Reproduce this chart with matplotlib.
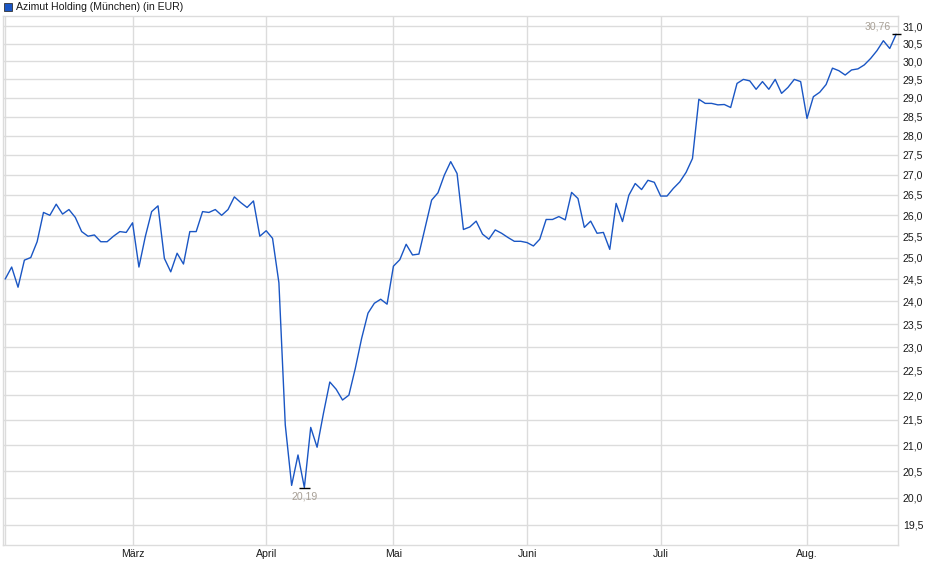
import numpy as np
import matplotlib.pyplot as plt
from matplotlib.ticker import FixedLocator, FuncFormatter, NullLocator

plt.rcParams['font.family'] = ['Liberation Sans', 'DejaVu Sans']

# Schlusskurse (Handelstage, Feb. - Aug.)
kurse = [24.51, 24.78, 24.32, 24.94, 25.00, 25.37, 26.07, 26.00, 26.27, 26.03,
         26.14, 25.95, 25.61, 25.50, 25.53, 25.37, 25.37, 25.50, 25.61, 25.59,
         25.82, 24.78, 25.49, 26.09, 26.23, 24.98, 24.67, 25.10, 24.85, 25.61,
         25.61, 26.09, 26.07, 26.14, 26.00, 26.14, 26.45, 26.31, 26.19, 26.35,
         25.50, 25.63, 25.45, 24.42, 21.40, 20.23, 20.81, 20.19, 21.35, 20.96,
         21.63, 22.27, 22.12, 21.90, 22.00, 22.55, 23.19, 23.74, 23.96, 24.05,
         23.94, 24.80, 24.95, 25.31, 25.06, 25.08, 25.72, 26.37, 26.55, 26.99,
         27.33, 27.03, 25.66, 25.72, 25.86, 25.55, 25.43, 25.65, 25.57, 25.47,
         25.38, 25.38, 25.35, 25.27, 25.43, 25.90, 25.90, 25.97, 25.89, 26.56,
         26.41, 25.71, 25.86, 25.57, 25.59, 25.19, 26.29, 25.85, 26.49, 26.78,
         26.63, 26.86, 26.81, 26.47, 26.47, 26.66, 26.82, 27.06, 27.41, 28.96,
         28.85, 28.85, 28.81, 28.82, 28.74, 29.39, 29.50, 29.46, 29.23, 29.44,
         29.23, 29.50, 29.12, 29.28, 29.50, 29.44, 28.45, 29.03, 29.15, 29.36,
         29.81, 29.74, 29.62, 29.76, 29.79, 29.90, 30.08, 30.30, 30.58, 30.36,
         30.76]

# Monatsanfaenge als Handelstag-Index
monat_pos = [0, 20, 41, 61, 82, 103, 126]
monat_namen = ['', 'März', 'April', 'Mai', 'Juni', 'Juli', 'Aug.']

y_ticks = [19.5, 20.0, 20.5, 21.0, 21.5, 22.0, 22.5, 23.0, 23.5, 24.0, 24.5,
           25.0, 25.5, 26.0, 26.5, 27.0, 27.5, 28.0, 28.5, 29.0, 29.5, 30.0,
           30.5, 31.0]

tage = np.arange(len(kurse))
kurse = np.array(kurse)
grau = '#dcdcdc'
fs = 7.6

fig = plt.figure(figsize=(9.4, 5.79), dpi=100)
ax = fig.add_axes([2.7 / 940, 34 / 579, 895.3 / 940, 529 / 579])

ax.plot(tage, kurse, color='#1a56c4', lw=1.0, zorder=3)

ax.set_yscale('log')
ax.set_ylim(19.14, 31.29)
ax.set_xlim(-0.41, 140.3)

ax.yaxis.set_major_locator(FixedLocator(y_ticks))
ax.yaxis.set_minor_locator(NullLocator())
ax.yaxis.set_major_formatter(FuncFormatter(lambda v, p: f'{v:.1f}'.replace('.', ',')))
ax.yaxis.tick_right()
ax.tick_params(axis='y', length=0, pad=3.5, labelsize=fs, labelcolor='#1a1a1a')

ax.set_xticks(monat_pos)
ax.set_xticklabels(monat_namen)
ax.tick_params(axis='x', length=0, pad=3, labelsize=fs, labelcolor='#1a1a1a')

ax.grid(True, color=grau, lw=1.0, zorder=0)
for s in ax.spines.values():
    s.set_color(grau)
    s.set_linewidth(1.0)

# Tief und Hoch markieren
i_min = int(np.argmin(kurse))
i_max = int(np.argmax(kurse))
ax.hlines(kurse[i_min], i_min - 0.9, i_min + 0.9, color='black', lw=1.0, zorder=4)
ax.text(i_min, kurse[i_min] * 0.996, f'{kurse[i_min]:.2f}'.replace('.', ','),
        ha='center', va='top', fontsize=fs, color='#a8a096')
ax.hlines(kurse[i_max], i_max - 0.7, i_max + 0.7, color='black', lw=1.0,
          zorder=4, clip_on=False)
ax.text(i_max - 0.9, kurse[i_max] * 1.003, f'{kurse[i_max]:.2f}'.replace('.', ','),
        ha='right', va='bottom', fontsize=fs, color='#a8a096')

# Legende oben links
fig.patches.append(plt.Rectangle((4 / 940, 1 - 10.5 / 579), 7.5 / 940, 7.5 / 579,
                                 transform=fig.transFigure, facecolor='#1a56c4',
                                 edgecolor='#333333', lw=0.6))
fig.text(16 / 940, 1 - 6.5 / 579, 'Azimut Holding (München) (in EUR)',
         fontsize=fs, color='#1a1a1a', va='center', ha='left')

plt.savefig('out.png', dpi=100)
